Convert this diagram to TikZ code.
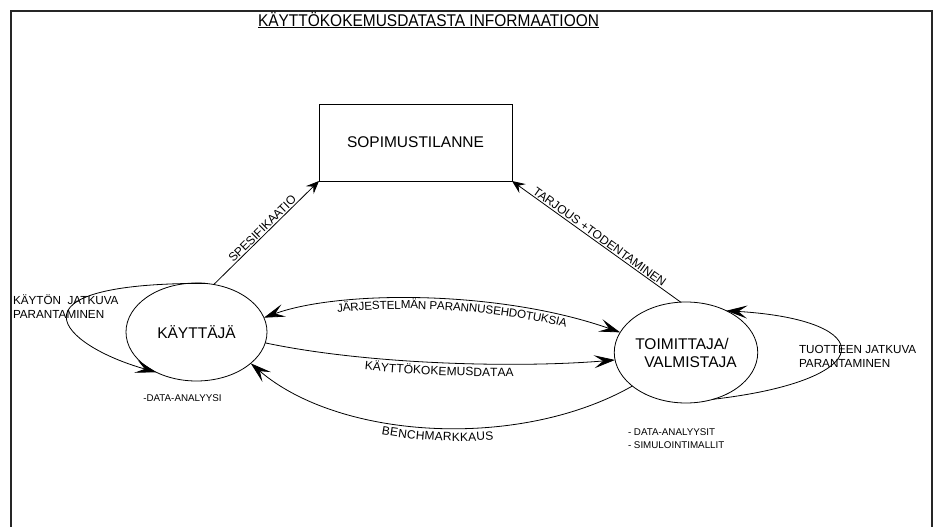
\documentclass[tikz,border=0pt]{standalone}
\usepackage{fontspec}
\setmainfont{Liberation Sans}
\usetikzlibrary{arrows.meta,shapes.geometric,decorations.text}
\newcommand{\lblfont}{\fontsize{12}{13}\selectfont}
\newcommand{\jfont}{\fontsize{11.6}{13}\selectfont}
\begin{document}
\begin{tikzpicture}[x=1pt,y=-1pt,
  every node/.style={inner sep=0pt, outer sep=0pt},
  conn/.style={draw=black, line width=0.8pt},
  bigtip/.style={-{Stealth[length=21pt,width=13pt,inset=9pt]}},
  bigtipback/.style={{Stealth[length=21pt,width=13pt,inset=9pt]}-},
  bothtip/.style={{Stealth[length=21pt,width=13pt,inset=9pt]}-{Stealth[length=21pt,width=13pt,inset=9pt]}},
  smalltip/.style={-{Stealth[length=13pt,width=11pt,inset=5pt]}},
  smalltipback/.style={{Stealth[length=13pt,width=11pt,inset=5pt]}-},
  oval/.style={ellipse, draw, line width=0.8pt, font=\fontsize{15.5}{18}\selectfont},
  lbl/.style={font=\lblfont},
  side/.style={font=\fontsize{11.7}{13.5}\selectfont, align=left, anchor=west},
  small/.style={font=\fontsize{9.8}{12.5}\selectfont, align=left, anchor=west},
  frame/.style={line width=1.8pt, draw=black!85}
]
\useasboundingbox (0,0) rectangle (934,527);
\draw[frame] (11,527) -- (11,11) -- (932,11) -- (932,527);

\node[font=\fontsize{17}{19}\selectfont] (title) at (428.5,20)
  {\scalebox{0.91}[1]{\underline{KÄYTTÖKOKEMUSDATASTA INFORMAATIOON}}};

\node[draw, line width=0.8pt, minimum width=193pt, minimum height=77pt,
      font=\fontsize{15.5}{18}\selectfont] (S) at (415.5,142.5) {SOPIMUSTILANNE};

\node[oval, minimum width=141pt, minimum height=98pt] (K) at (196.5,332) {KÄYTTÄJÄ};
\node[oval, minimum width=140pt, minimum height=101pt, align=left] (T) at (686,352.5)
  {TOIMITTAJA/\\\hspace*{9pt}VALMISTAJA};

% straight connectors to the agreement box
\draw[conn, smalltip] (K.70) -- (S.south west)
  node[midway, above=1.5pt, sloped, lbl] (spec) {SPESIFIKAATIO};
\draw[conn, smalltipback] (S.south east) -- (T.96)
  node[midway, above=1.5pt, sloped, lbl] (tarj) {TARJOUS +TODENTAMINEN};

% system improvement suggestions (both ways)
\draw[conn, bothtip] (K.12) .. controls (340,290) and (500,290) .. (T.163);
\path[decorate, decoration={text along path,
   text={|\jfont|JÄRJESTELMÄN PARANNUSEHDOTUKSIA},
   text align={center, left indent=20pt}, raise=-10.5pt}]
   (K.12) .. controls (340,290) and (500,290) .. (T.163);

% usage experience data
\draw[conn, bigtip] (K.-9) .. controls (370,365) and (520,368) .. (T.186);
\path[decorate, decoration={text along path,
   text={|\lblfont|KÄYTTÖKOKEMUSDATAA},
   text align={center}, raise=-12.5pt}]
   (K.-9) .. controls (370,365) and (520,368) .. (T.186);

% benchmarking
\draw[conn, bigtipback] (K.-30) .. controls (340,440) and (520,450) .. (T.212);
\path[decorate, decoration={text along path,
   text={|\lblfont|BENCHMARKKAUS},
   text align={center}, raise=-13pt}]
   (K.-30) .. controls (340,440) and (520,450) .. (T.212);

% self loops
\draw[conn, bigtip] (K.80) .. controls (0,283) and (60,345) .. (K.-135);
\draw[conn, bigtip] (T.-60) .. controls (880,380) and (880,320) .. (T.46);

\node[side] (kl) at (13,306.5) {KÄYTÖN\ \ JATKUVA\\PARANTAMINEN};
\node[side] (tl) at (799,356.5) {TUOTTEEN JATKUVA\\PARANTAMINEN};

\node[font=\fontsize{9.8}{12.5}\selectfont] (kd) at (182.5,398) {-DATA-ANALYYSI};
\node[small] (td) at (628,438.5) {- DATA-ANALYYSIT\\- SIMULOINTIMALLIT};
\end{tikzpicture}
\end{document}
